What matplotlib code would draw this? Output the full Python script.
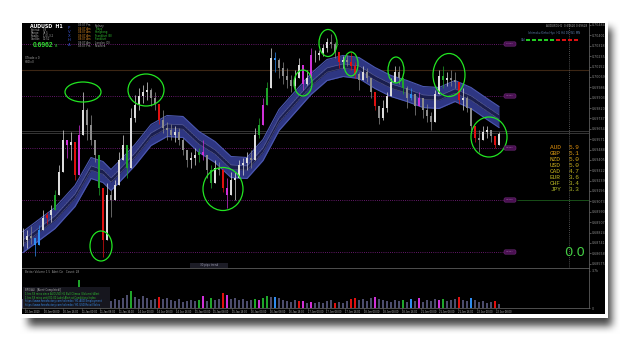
import numpy as np
import matplotlib
matplotlib.use('Agg')
import matplotlib.pyplot as plt
from matplotlib.patches import Ellipse, Rectangle, FancyBboxPatch

# AUDUSD H1 candles
highs = [0.68860, 0.68844, 0.68876, 0.68780, 0.68884, 0.69004, 0.68988, 0.69044, 0.69164, 0.69364,
         0.69644, 0.69564, 0.69628, 0.69484, 0.69684, 0.69948, 0.69820, 0.69764, 0.69564, 0.69324,
         0.69020, 0.69220, 0.69164, 0.69244, 0.69468, 0.69604, 0.69500, 0.69820, 0.69924, 0.69980,
         0.70004, 0.70028, 0.69980, 0.69948, 0.69844, 0.69804, 0.69708, 0.69692, 0.69676, 0.69660,
         0.69580, 0.69484, 0.69468, 0.69500, 0.69500, 0.69564, 0.69420, 0.69364, 0.69404, 0.69388,
         0.69340, 0.69260, 0.69308, 0.69308, 0.69404, 0.69420, 0.69468, 0.69484, 0.69660, 0.69740,
         0.69900, 0.70028, 0.70300, 0.70268, 0.70220, 0.70188, 0.70140, 0.70084, 0.70124, 0.70220,
         0.70108, 0.70124, 0.70300, 0.70284, 0.70284, 0.70332, 0.70380, 0.70412, 0.70348, 0.70244,
         0.70236, 0.70244, 0.70268, 0.70188, 0.70108, 0.70156, 0.70140, 0.70028, 0.69948, 0.69820,
         0.69884, 0.69948, 0.70060, 0.70156, 0.70156, 0.70044, 0.69996, 0.69980, 0.69932, 0.69948,
         0.69884, 0.69852, 0.69788, 0.69964, 0.70124, 0.70156, 0.70108, 0.70124, 0.70108, 0.69964,
         0.69980, 0.69916, 0.69820, 0.69660, 0.69644, 0.69676, 0.69676, 0.69644, 0.69596, 0.69628]
lows = [0.68716, 0.68700, 0.68732, 0.68636, 0.68764, 0.68860, 0.68892, 0.68908, 0.69044, 0.69164,
        0.69444, 0.69420, 0.69404, 0.69244, 0.69484, 0.69660, 0.69564, 0.69524, 0.69388, 0.69124,
        0.68628, 0.68940, 0.68948, 0.69084, 0.69244, 0.69444, 0.69260, 0.69604, 0.69708, 0.69804,
        0.69860, 0.69884, 0.69836, 0.69804, 0.69692, 0.69620, 0.69564, 0.69564, 0.69548, 0.69524,
        0.69444, 0.69348, 0.69340, 0.69364, 0.69388, 0.69404, 0.69260, 0.69180, 0.69260, 0.69284,
        0.69148, 0.69020, 0.69148, 0.69084, 0.69260, 0.69284, 0.69324, 0.69340, 0.69404, 0.69580,
        0.69724, 0.69884, 0.70028, 0.70108, 0.70060, 0.70012, 0.69980, 0.69948, 0.69964, 0.70108,
        0.69964, 0.70004, 0.70140, 0.70188, 0.70204, 0.70236, 0.70268, 0.70300, 0.70220, 0.70140,
        0.70140, 0.70156, 0.70124, 0.70060, 0.69964, 0.70044, 0.70028, 0.69900, 0.69804, 0.69692,
        0.69724, 0.69788, 0.69932, 0.70028, 0.70012, 0.69932, 0.69820, 0.69884, 0.69764, 0.69852,
        0.69740, 0.69708, 0.69644, 0.69836, 0.69964, 0.69980, 0.69996, 0.69996, 0.69980, 0.69852,
        0.69804, 0.69788, 0.69644, 0.69548, 0.69468, 0.69564, 0.69580, 0.69548, 0.69500, 0.69580]
closes = [0.68764, 0.68796, 0.68780, 0.68724, 0.68844, 0.68940, 0.68964, 0.69004, 0.69124, 0.69308,
          0.69564, 0.69524, 0.69548, 0.69284, 0.69604, 0.69804, 0.69684, 0.69564, 0.69444, 0.69180,
          0.68764, 0.69124, 0.69084, 0.69204, 0.69404, 0.69524, 0.69340, 0.69740, 0.69844, 0.69916,
          0.69948, 0.69964, 0.69900, 0.69852, 0.69724, 0.69660, 0.69644, 0.69604, 0.69628, 0.69564,
          0.69484, 0.69404, 0.69420, 0.69444, 0.69468, 0.69444, 0.69324, 0.69220, 0.69340, 0.69324,
          0.69180, 0.69124, 0.69244, 0.69260, 0.69364, 0.69380, 0.69420, 0.69404, 0.69604, 0.69684,
          0.69844, 0.69980, 0.70220, 0.70204, 0.70140, 0.70076, 0.70044, 0.69996, 0.70060, 0.70164,
          0.70012, 0.70060, 0.70244, 0.70244, 0.70260, 0.70300, 0.70348, 0.70332, 0.70268, 0.70188,
          0.70204, 0.70188, 0.70156, 0.70092, 0.70044, 0.70108, 0.70060, 0.69948, 0.69836, 0.69740,
          0.69820, 0.69916, 0.70028, 0.70108, 0.70060, 0.69980, 0.69900, 0.69932, 0.69836, 0.69900,
          0.69804, 0.69756, 0.69708, 0.69932, 0.70076, 0.70044, 0.70060, 0.70044, 0.70028, 0.69884,
          0.69900, 0.69820, 0.69676, 0.69580, 0.69564, 0.69628, 0.69644, 0.69596, 0.69524, 0.69612]
volumes = [900, 1000, 800, 1100, 1200, 900, 1000, 800, 1300, 1100,
           1200, 1000, 900, 1100, 2800, 1300, 1000, 1100, 900, 1200,
           1400, 1000, 700, 900, 800, 1000, 1300, 1700, 1100, 900,
           1200, 1000, 800, 900, 1100, 900, 1000, 800, 700, 900,
           600, 700, 800, 700, 800, 1200, 700, 1000, 800, 900,
           1500, 1300, 900, 1000, 800, 900, 700, 800, 900, 800,
           1000, 1200, 1100, 1100, 1000, 800, 700, 600, 800, 700,
           700, 500, 600, 500, 600, 500, 700, 800, 500, 600,
           500, 700, 900, 1000, 800, 900, 700, 1000, 1100, 900,
           800, 700, 600, 800, 700, 800, 600, 900, 700, 1000,
           600, 800, 700, 900, 800, 900, 700, 800, 900, 1100,
           800, 700, 1000, 800, 600, 700, 500, 600, 700, 400]

# indicator colouring of bars
blue_bars = [3, 4, 63, 97]
green_bars = [8, 19, 26, 44, 47, 59, 61, 95, 105]
red_bars = [6, 13, 20, 34, 50, 79, 82, 83, 88, 109, 113, 118]
magenta_bars = [11, 14, 45, 51, 60, 70, 72, 99]
vol_special = {14: 'g', 27: 'g', 34: 'r', 44: 'g', 45: 'm', 47: 'g', 50: 'r', 51: 'm', 58: 'g',
               59: 'm', 60: 'g', 61: 'g', 63: 'b', 69: 'r', 70: 'm', 72: 'm', 78: 'r', 82: 'r',
               83: 'r', 88: 'm', 95: 'g', 97: 'b', 99: 'm', 104: 'm', 105: 'g', 109: 'r',
               112: 'b', 118: 'r'}

# moving-average band centre
ma_idx = [0, 8, 13, 17, 20, 22, 24, 28, 32, 36, 40, 44, 48, 52, 56, 60, 64, 68, 72, 76,
          80, 84, 88, 92, 96, 100, 104, 108, 112, 116, 119]
ma_vals = [0.68748, 0.68940, 0.69116, 0.69340, 0.69308, 0.69244, 0.69308, 0.69444, 0.69604, 0.69676,
           0.69668, 0.69548, 0.69468, 0.69348, 0.69340, 0.69484, 0.69724, 0.69868, 0.70012, 0.70124,
           0.70156, 0.70140, 0.70060, 0.69996, 0.69956, 0.69908, 0.69900, 0.69956, 0.69900, 0.69812,
           0.69748]
band_half = 0.00084

# levels
dotted_levels = [0.70332, 0.69916, 0.69500, 0.69084, 0.68668]
brown_level = 0.70124
bid_level = 0.69628

# green circles: (bar, price, width in bars, height in price)
circles = [(15, 0.69948, 9, 0.0016), (30.75, 0.69964, 9, 0.00256), (19.5, 0.68716, 5.5, 0.0024),
           (50, 0.69172, 10, 0.00344), (70, 0.70020, 4.5, 0.00208), (76.25, 0.70340, 4.5, 0.00216),
           (82, 0.70172, 3.5, 0.00192), (93.25, 0.70124, 4, 0.00208), (106.5, 0.70084, 8, 0.00344),
           (116.5, 0.69588, 9, 0.0032)]

currencies = ['AUD', 'GBP', 'NZD', 'USD', 'CAD', 'EUR', 'CHF', 'JPY']
strength = [5.9, 5.1, 5.0, 5.0, 4.7, 3.6, 3.4, 3.3]
cur_colors = ['#e0900c', '#dc9c14', '#d4a818', '#ccb01c', '#c4b41c', '#bcb420', '#b4b424', '#acb428']

sessions = ['Sydney', 'Tokyo', 'Hongkong', 'Frankfurt (B)', 'Frankfurt', 'London (O)', 'NewYork']
session_times = ['03:07 Pm', '04:07 Am', '04:07 Am', '09:07 Am', '09:07 Am', '09:07 Am', '03:07 Pm']
session_on = [False, True, True, True, True, False, False]

time_labels = ['10 Jan 2019', '10 Jan 08:00', '10 Jan 16:00', '11 Jan 00:00', '11 Jan 08:00',
               '11 Jan 16:00', '14 Jan 00:00', '14 Jan 08:00', '14 Jan 16:00', '15 Jan 00:00',
               '15 Jan 08:00', '15 Jan 16:00', '16 Jan 00:00', '16 Jan 08:00', '16 Jan 16:00',
               '17 Jan 00:00', '17 Jan 08:00', '17 Jan 16:00', '18 Jan 00:00', '18 Jan 08:00',
               '18 Jan 16:00', '21 Jan 00:00', '21 Jan 08:00', '21 Jan 16:00', '22 Jan 00:00',
               '22 Jan 08:00']

W, H = 625, 337


def px_rect(x0, y0, x1, y1):
    return [x0 / W, 1 - y1 / H, (x1 - x0) / W, (y1 - y0) / H]


fig = plt.figure(figsize=(6.25, 3.37), dpi=100)

# page with drop shadow
bg = fig.add_axes([0, 0, 1, 1])
mask = np.zeros((H, W))
mask[28:326, 28:612] = 1.0
k = np.ones(9) / 9
for _ in range(2):
    mask = np.apply_along_axis(lambda r: np.convolve(r, k, mode='same'), 1, mask)
    mask = np.apply_along_axis(lambda c: np.convolve(c, k, mode='same'), 0, mask)
shade = 1 - 0.72 * mask
bg.imshow(np.dstack([shade] * 3), extent=[0, W, H, 0], interpolation='bilinear')
bg.add_patch(Rectangle((19, 20), 589, 298, facecolor='white', edgecolor='none'))
bg.add_patch(Rectangle((22, 23), 583, 291, facecolor='black', edgecolor='none'))
bg.set_xlim(0, W)
bg.set_ylim(H, 0)
bg.axis('off')

# main price window
ax = fig.add_axes(px_rect(22, 23, 589, 268))
ax.set_facecolor('black')
n = len(closes)
idx = np.arange(n)
opens = [closes[0]] + closes[:-1]
ma = np.array(ma_vals)

ax.fill_between(ma_idx, ma - band_half, ma + band_half, color='#2e3682', lw=0, zorder=1)
ax.plot(ma_idx, ma + band_half, color='#4c58b0', lw=0.8, zorder=1)
ax.plot(ma_idx, ma - band_half, color='#4c58b0', lw=0.8, zorder=1)
ax.fill_between(ma_idx, ma - 0.00017, ma + 0.00017, color='#1a1e4e', lw=0, zorder=1)
ax.plot(ma_idx, ma + 0.00017, color='#9a9aae', lw=0.35, ls=(0, (1, 1)), zorder=1)
ax.plot(ma_idx, ma - 0.00017, color='#9a9aae', lw=0.35, ls=(0, (1, 1)), zorder=1)

for i in idx:
    o, c = opens[i], closes[i]
    if i in blue_bars:
        col = '#2f8cf0'
    elif i in green_bars:
        col = '#1fa52a'
    elif i in red_bars:
        col = '#e01010'
    elif i in magenta_bars:
        col = '#d030d8'
    else:
        col = '#dcdcdc' if c >= o else '#8c8c8c'
    hi = max(highs[i], o, c)
    lo = min(lows[i], o, c)
    ax.vlines(i, lo, hi, color=col, lw=0.5, zorder=2)
    ax.bar(i, max(abs(c - o), 0.00003), bottom=min(o, c), width=0.42, color=col, lw=0, zorder=2)

for cx, cy, cw, ch in circles:
    ax.add_patch(Ellipse((cx, cy), cw, ch, fill=False, edgecolor='#22e622', lw=0.9, zorder=4))

ax.hlines(dotted_levels, -1, 120, color='#86208c', lw=0.6, ls=(0, (1, 1.6)), zorder=0)
ax.hlines(dotted_levels[3], 123.5, 142, color='#1c5c1c', lw=0.6, zorder=0)
ax.axhline(brown_level, color='#3c2614', lw=0.8, zorder=0)
ax.axhline(bid_level - 0.00006, color='#4c4c4c', lw=0.5, zorder=0)
ax.axhline(bid_level + 0.00006, color='#4c4c4c', lw=0.5, zorder=0)
ax.axvline(136.5, color='#6a6a6a', lw=0.6, ls=(0, (1, 1.5)), zorder=0)

ax.set_xlim(-0.25, 141.5)
ax.set_ylim(0.68540, 0.70500)
ax.set_xticks([])
ax.set_yticks(np.arange(0.68575, 0.70500, 0.00083))
ax.yaxis.set_major_formatter(matplotlib.ticker.FormatStrFormatter('%.5f'))
ax.tick_params(axis='y', left=False, labelleft=False, right=True, labelright=True,
               length=1.2, width=0.4, colors='#8a8a8a', labelsize=2.3, pad=0.8)
for s in ['left', 'top']:
    ax.spines[s].set_visible(False)
for s in ['right', 'bottom']:
    ax.spines[s].set_color('#5c5c5c')
    ax.spines[s].set_linewidth(0.6)

# volume window
av = fig.add_axes(px_rect(22, 268, 589, 308))
av.set_facecolor('black')
vcols = {'g': '#1fa52a', 'r': '#e01010', 'm': '#d030d8', 'b': '#2f8cf0'}
colors_v = [vcols[vol_special[i]] if i in vol_special else '#4c4c6c' for i in idx]
av.bar(idx, volumes, width=0.6, color=colors_v, lw=0)
av.set_xlim(-0.25, 141.5)
av.set_ylim(0, 4000)
av.set_yticks([0, 3700])
av.set_yticklabels(['0', '3.7k'])
tick_pos = 0.5 + 4.71 * np.arange(len(time_labels))
av.set_xticks(tick_pos)
av.set_xticklabels(time_labels, ha='left', family='Liberation Sans')
av.tick_params(axis='x', length=1, width=0.4, colors='#b4b4b4', labelsize=1.9, pad=0.5)
av.tick_params(axis='y', left=False, labelleft=False, right=True, labelright=True,
               length=1, width=0.4, colors='#8a8a8a', labelsize=2.3, pad=0.8)
av.spines['left'].set_visible(False)
for s in ['right', 'bottom', 'top']:
    av.spines[s].set_color('#5c5c5c')
    av.spines[s].set_linewidth(0.6)

# overlay texts in pixel coordinates
ov = fig.add_axes([0, 0, 1, 1])
ov.set_xlim(0, W)
ov.set_ylim(H, 0)
ov.axis('off')
ov.patch.set_alpha(0)

ov.text(30, 26, 'AUDUSD  H1', fontsize=3.4, color='white', weight='bold', va='center')
info_rows = [('Spread:', '0.8'), ('Range:', '48.5'), ('Swaps:', '-1.0/-3.2'), ('Candle:', '00:52')]
for r, (a, b) in enumerate(info_rows):
    ov.text(31, 29.8 + 3.1 * r, a, fontsize=1.9, color='#a8a8a8', va='center')
    ov.text(43, 29.8 + 3.1 * r, b, fontsize=1.9, color='#a8a8a8', va='center')
ov.text(33, 45.6, '0.6962', fontsize=4.8, family='Liberation Sans', color='#33dd33',
        weight='bold', va='center')
ov.text(54.5, 46.3, '8', fontsize=2.8, color='#33dd33', va='center')
for r, ch in enumerate(['P', 'V', 'X', 'H', 'A']):
    ov.text(69, 27.7 + 4.2 * r, ch, fontsize=2.8, color='#3a56d8', ha='center', va='center')
for r in range(len(sessions)):
    on = session_on[r]
    ov.text(78, 25.5 + 3.4 * r, session_times[r], fontsize=1.9, va='center',
            color='#e08a20' if on else '#a8a8a8')
    ov.text(95, 25.5 + 3.4 * r, sessions[r], fontsize=1.9, va='center',
            color='#30c030' if on else '#a8a8a8')
ov.text(25, 58, 'XTrade x 0', fontsize=2, color='#a0a0a0', va='center')
ov.text(25, 62, 'HBD=0', fontsize=2, color='#a0a0a0', va='center')

ov.text(587, 26, 'AUDUSD,H1  0.69620 0.69628', fontsize=2, color='#a0a0a0', ha='right', va='center')
ov.text(580, 33, 'Ichimoku Kinko Hyo  H1 H4 D1 W1 MN', fontsize=2, color='#5a7aa8', ha='right', va='center')
ov.text(525, 40, 'CAI', fontsize=2, color='#5a7aa8', ha='right', va='center')
for j in range(9):
    ov.add_patch(Rectangle((526 + 6 * j, 39), 4, 2, color='#22cc22' if j < 5 else '#dd1111', lw=0))

for lv in dotted_levels:
    yy = (70684 - lv * 1e5) / 8
    ov.add_patch(FancyBboxPatch((504, yy - 2.2), 12, 4.4, boxstyle='round,pad=0,rounding_size=1.5',
                                facecolor='#4a1052', edgecolor='#6e2a78', lw=0.4))
    ov.text(510, yy, '%.4f' % lv, fontsize=1.6, color='#a070a8', ha='center', va='center')

for r, (cur, val) in enumerate(zip(currencies, strength)):
    ov.text(550, 147.5 + 6 * r, cur, fontsize=4.4, family='Liberation Mono', color=cur_colors[r], va='center')
    ov.text(569, 147.5 + 6 * r, '%.1f' % val, fontsize=4.4, family='Liberation Mono', color=cur_colors[r], va='center')
ov.text(575, 253, '0.0', fontsize=9.5, color='#44cc44', ha='center', va='center')

ov.add_patch(Rectangle((190, 262.5), 38, 5, facecolor='#1c1c26', edgecolor='none'))
ov.text(209, 265, '30 pips trend', fontsize=2, color='#9a9ab0', ha='center', va='center')
ov.text(25, 272, 'Better Volume 1.5  Alert On   Count: 28', fontsize=2, color='#9a9a9a', va='center')

ov.add_patch(Rectangle((23, 287), 87, 21, facecolor='#16161e', edgecolor='none'))
box_lines = [('BPO(AL)  [Alert (Completed)]', '#b0b0b0'),
             ('1 hrs 59 mins since AUDUSD H1 Bull Climax (Volume) Alert', '#30c030'),
             ('1 hrs 59 mins until 01:00 Label Alert at Conditions Index', '#30c030'),
             ('https://www.forexfactory.com/calendar/ H1 AUD Employment', '#3a8ce8'),
             ('https://www.forexfactory.com/calendar/ H1 USD Retail Sales', '#3a8ce8')]
for r, (s, c) in enumerate(box_lines):
    ov.text(25, 290.5 + 3.6 * r, s, fontsize=1.8, color=c, va='center')

fig.savefig('out.png', dpi=100)
